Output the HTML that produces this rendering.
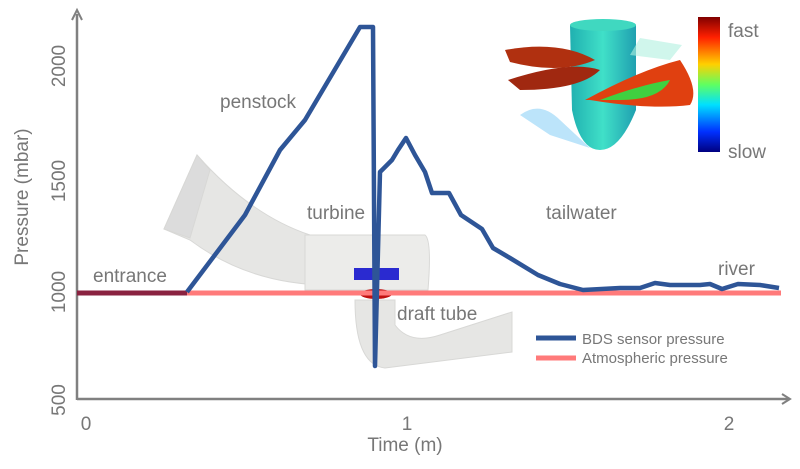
<!DOCTYPE html>
<html><head><meta charset="utf-8"><style>
html,body{margin:0;padding:0;background:#fff}
svg{display:block}
text{font-family:"Liberation Sans",Arial,sans-serif;fill:#777}
</style></head><body>
<svg width="800" height="469" viewBox="0 0 800 469" xmlns="http://www.w3.org/2000/svg">
<defs>
<linearGradient id="cb" x1="0" y1="0" x2="0" y2="1">
<stop offset="0" stop-color="#800000"/><stop offset="0.15" stop-color="#ff2000"/><stop offset="0.35" stop-color="#ffd000"/><stop offset="0.5" stop-color="#60ff60"/><stop offset="0.65" stop-color="#00e0ff"/><stop offset="0.85" stop-color="#0030ff"/><stop offset="1" stop-color="#000080"/>
</linearGradient>
<linearGradient id="cyl" x1="0" y1="0" x2="1" y2="0">
<stop offset="0" stop-color="#20b0b0"/><stop offset="0.5" stop-color="#40e0c8"/><stop offset="1" stop-color="#20a0b0"/>
</linearGradient>
</defs>
<g fill="#e6e6e4" stroke="#d8d8d6" stroke-width="1">
<path d="M164,229 L197,155 Q250,215 310,235 L330,245 L330,285 Q250,285 190,240 Z"/>
<path d="M164,229 L197,155 L210,170 L190,238 Z" fill="#dcdcdc"/>
<path d="M305,235 L425,235 Q432,240 428,290 L305,290 Z" fill="#ececea"/>
<path d="M355,300 Q355,365 385,368 L512,352 L512,312 L440,335 Q410,345 395,325 L395,300 Z"/>
</g>
<rect x="354" y="268" width="45" height="12" fill="#2a2ad0"/>
<ellipse cx="376" cy="294" rx="16" ry="5" fill="#c01010"/>
<g stroke="#808080" stroke-width="2.5" fill="none">
<line x1="77" y1="400" x2="77" y2="14"/>
<line x1="77" y1="399" x2="788" y2="399"/>
</g>
<path d="M72,20 L77,10 L82,20" fill="none" stroke="#808080" stroke-width="2"/>
<path d="M782,394 L790,399 L782,404" fill="none" stroke="#808080" stroke-width="2"/>
<line x1="77" y1="293" x2="781" y2="293" stroke="#ff7a7a" stroke-width="5"/>
<line x1="77" y1="293" x2="187" y2="293" stroke="#8a2240" stroke-width="5"/>
<polyline fill="none" stroke="#2e5597" stroke-width="4.5" stroke-linejoin="round" points="187,292 245,215 280,150 305,120 360,27 373,27 375,366 380,172 392,160 398,150 406,138 415,155 425,172 432,193 449,193 461,215 482,229 493,248 510,258 538,275 560,284 583,290 620,288 640,288 655,283 670,285 700,285 710,284 722,289 738,284 760,285 779,288"/>
<g font-size="19">
<text x="93" y="282">entrance</text>
<text x="220" y="108">penstock</text>
<text x="307" y="219">turbine</text>
<text x="397" y="320">draft tube</text>
<text x="546" y="219">tailwater</text>
<text x="718" y="275">river</text>
</g>
<g font-size="19">
<text x="86" y="430" text-anchor="middle">0</text>
<text x="407" y="430" text-anchor="middle">1</text>
<text x="729" y="430" text-anchor="middle">2</text>
<text x="405" y="451" text-anchor="middle">Time (m)</text>
<text transform="translate(65,66) rotate(-90)" text-anchor="middle">2000</text>
<text transform="translate(65,181) rotate(-90)" text-anchor="middle">1500</text>
<text transform="translate(65,292) rotate(-90)" text-anchor="middle">1000</text>
<text transform="translate(65,400) rotate(-90)" text-anchor="middle">500</text>
<text transform="translate(28,197) rotate(-90)" text-anchor="middle">Pressure (mbar)</text>
</g>
<line x1="536" y1="338" x2="576" y2="338" stroke="#2e5597" stroke-width="5"/>
<line x1="536" y1="358" x2="576" y2="358" stroke="#ff7a7a" stroke-width="5"/>
<text x="582" y="344" font-size="15">BDS sensor pressure</text>
<text x="582" y="363" font-size="15">Atmospheric pressure</text>
<g>
<path d="M520,115 Q540,100 560,120 L590,148 L550,135 Z" fill="#9fd8f8" opacity="0.7"/>
<path d="M570,25 L636,25 L636,110 Q620,150 600,150 Q580,150 572,110 Z" fill="url(#cyl)"/>
<ellipse cx="603" cy="25" rx="33" ry="6" fill="#40d8c0"/>
<path d="M505,50 Q560,40 595,60 Q560,75 510,62 Z" fill="#b03010"/>
<path d="M508,80 Q570,60 600,70 Q580,90 520,90 Z" fill="#a02810"/>
<path d="M585,100 Q640,70 680,60 Q700,90 690,105 Q650,110 590,100 Z" fill="#e04010"/>
<path d="M600,100 Q640,85 670,80 Q660,100 620,100 Z" fill="#40d040"/>
<path d="M640,38 L682,45 L670,60 L630,55 Z" fill="#b0f0e0" opacity="0.6"/>
</g>
<rect x="698" y="17" width="22" height="135" fill="url(#cb)"/>
<text x="728" y="37" font-size="19">fast</text>
<text x="728" y="158" font-size="19">slow</text>
</svg>
</body></html>
